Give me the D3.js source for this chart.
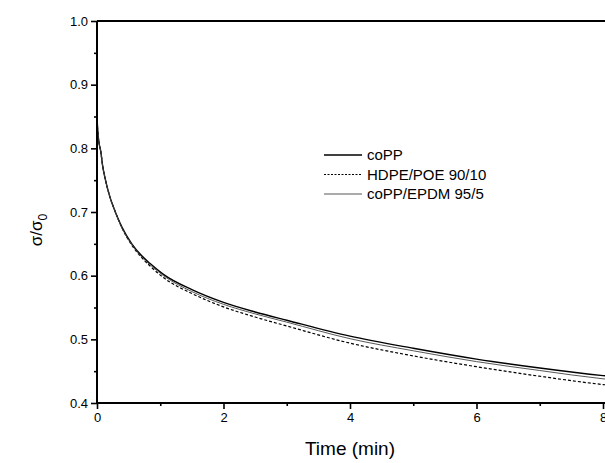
<!DOCTYPE html>
<html>
<head>
<meta charset="utf-8">
<script src="https://cdn.jsdelivr.net/npm/d3@7"></script>
<style>
    body{margin:0;background:#fff;}
    svg{display:block;font-family:"Liberation Sans",Arial,sans-serif;}
</style>
</head>
<body>
<svg id="chart" width="605" height="463"></svg>
<script>
// values
var times     = [0, 0.01, 0.03, 0.06, 0.09, 0.13, 0.2, 0.29, 0.4, 0.55, 0.7, 0.84, 1.05, 1.5, 2, 2.5, 3, 4, 5, 6, 7, 8, 8.3];
var coPP      = [0.85, 0.83, 0.81, 0.795, 0.772, 0.752, 0.725, 0.700, 0.675, 0.650, 0.632, 0.619, 0.602, 0.578, 0.558, 0.543, 0.530, 0.505, 0.486, 0.469, 0.455, 0.443, 0.440];
var hdpePoe   = [0.85, 0.83, 0.81, 0.795, 0.772, 0.752, 0.725, 0.700, 0.674, 0.648, 0.629, 0.615, 0.597, 0.572, 0.551, 0.535, 0.521, 0.494, 0.474, 0.457, 0.442, 0.429, 0.426];
var coppEpdm  = [0.85, 0.83, 0.81, 0.795, 0.772, 0.752, 0.725, 0.700, 0.674, 0.649, 0.630, 0.617, 0.600, 0.575, 0.555, 0.540, 0.527, 0.501, 0.482, 0.465, 0.451, 0.438, 0.435];
var seriesNames = ["coPP", "HDPE/POE 90/10", "coPP/EPDM 95/5"];
var xTicks = [0, 2, 4, 6, 8];
var xMinor = [1, 3, 5, 7];
var yTicks = [0.4, 0.5, 0.6, 0.7, 0.8, 0.9, 1.0];
var yMinor = [0.45, 0.55, 0.65, 0.75, 0.85, 0.95];

(function(){
    var svg = d3.select("#chart");

    var plotLeft = 97, plotTop = 21, plotBottom = 403;
    var x = d3.scaleLinear().domain([0, 8]).range([plotLeft, 603]);
    var y = d3.scaleLinear().domain([0.4, 1.0]).range([plotBottom, plotTop]);
    var plotRight = x(8.6);

    var styles = [
        {stroke: "#000", width: 1.4, dash: null},
        {stroke: "#000", width: 1.2, dash: "3,2"},
        {stroke: "#444", width: 0.9, dash: null}
    ];
    var allSeries = [coPP, hdpePoe, coppEpdm];

    svg.append("clipPath").attr("id", "plotclip")
        .append("rect").attr("x", plotLeft).attr("y", plotTop)
        .attr("width", plotRight - plotLeft).attr("height", plotBottom - plotTop);

    // curves
    var line = d3.line()
        .x(function(d){ return x(d[0]); })
        .y(function(d){ return y(d[1]); })
        .curve(d3.curveMonotoneX);

    allSeries.forEach(function(vals, i){
        var pts = times.map(function(t, j){ return [t, vals[j]]; });
        svg.append("path")
            .attr("d", line(pts))
            .attr("clip-path", "url(#plotclip)")
            .attr("fill", "none")
            .attr("stroke", styles[i].stroke)
            .attr("stroke-width", styles[i].width)
            .attr("stroke-dasharray", styles[i].dash);
    });

    // axes
    svg.append("g").attr("transform", "translate(0," + plotBottom + ")")
        .call(d3.axisBottom(x).tickValues(xTicks).tickFormat(d3.format("d")).tickSize(6).tickPadding(4));
    svg.append("g").attr("transform", "translate(0," + plotBottom + ")")
        .call(d3.axisBottom(x).tickValues(xMinor).tickFormat("").tickSize(3));

    svg.append("g").attr("transform", "translate(" + plotLeft + ",0)")
        .call(d3.axisLeft(y).tickValues(yTicks).tickFormat(d3.format(".1f")).tickSize(6).tickPadding(3));
    svg.append("g").attr("transform", "translate(" + plotLeft + ",0)")
        .call(d3.axisLeft(y).tickValues(yMinor).tickFormat("").tickSize(3));

    svg.selectAll(".domain").remove();
    svg.selectAll(".tick line").attr("stroke", "#000").attr("stroke-width", 1.6);
    svg.selectAll(".tick text").attr("font-size", 13).attr("fill", "#000");

    // frame
    svg.append("line").attr("x1", plotLeft).attr("x2", plotLeft).attr("y1", plotTop).attr("y2", plotBottom)
        .attr("stroke", "#000").attr("stroke-width", 2);
    svg.append("line").attr("x1", plotLeft).attr("x2", plotRight).attr("y1", plotBottom).attr("y2", plotBottom)
        .attr("stroke", "#000").attr("stroke-width", 2);
    svg.append("line").attr("x1", plotLeft).attr("x2", plotRight).attr("y1", plotTop).attr("y2", plotTop)
        .attr("stroke", "#000").attr("stroke-width", 2);

    // axis titles
    svg.append("text")
        .attr("x", 350).attr("y", 455)
        .attr("text-anchor", "middle")
        .attr("font-size", 19)
        .text("Time (min)");

    var yt = svg.append("text")
        .attr("transform", "translate(42,230) rotate(-90)")
        .attr("text-anchor", "middle")
        .attr("font-size", 17);
    yt.append("tspan").text("σ/σ");
    yt.append("tspan").attr("font-size", 12).attr("dy", 5).text("0");

    // legend
    var legend = svg.append("g").attr("transform", "translate(324,155)");
    seriesNames.forEach(function(name, i){
        var row = legend.append("g").attr("transform", "translate(0," + (i * 19.5) + ")");
        row.append("line")
            .attr("x1", 0).attr("x2", 38).attr("y1", 0).attr("y2", 0)
            .attr("stroke", styles[i].stroke)
            .attr("stroke-width", styles[i].width)
            .attr("stroke-dasharray", i == 1 ? "2,1.5" : null);
        row.append("text")
            .attr("x", 43).attr("y", 5)
            .attr("font-size", 15)
            .text(name);
    });
})();
</script>
</body>
</html>
